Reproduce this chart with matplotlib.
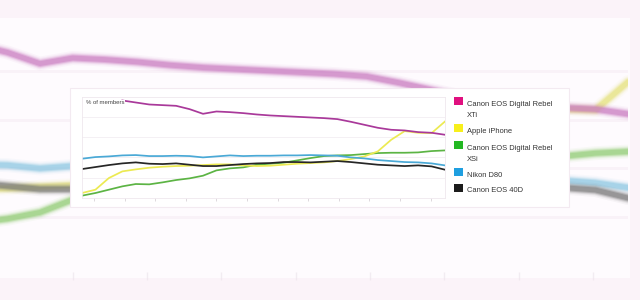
import numpy as np
import matplotlib
matplotlib.use("Agg")
import matplotlib.pyplot as plt
from matplotlib.patches import Rectangle

plt.rcParams['font.family'] = ['Liberation Sans', 'DejaVu Sans']

# ---- data (share of members, arbitrary % scale), 28 periods ----
periods = list(range(28))
series_names = ["Canon EOS Digital Rebel\nXTi", "Apple iPhone",
                "Canon EOS Digital Rebel\nXSi", "Nikon D80", "Canon EOS 40D"]
rebel_xti = [np.nan, np.nan, np.nan, 29.8, 29.2, 28.6, 28.4, 28.2, 27.2, 25.8,
             26.5, 26.3, 26.0, 25.6, 25.3, 25.1, 24.9, 24.7, 24.5, 24.2,
             23.4, 22.5, 21.6, 21.0, 20.8, 20.3, 20.1, 19.5]
iphone = [2.0, 3.0, 6.5, 8.5, 9.1, 9.6, 9.9, 10.1, 10.2, 10.4,
          10.6, 10.6, 10.3, 10.1, 10.2, 10.5, 10.8, 11.0, 11.2, 11.6,
          12.2, 13.0, 14.5, 18.0, 20.6, 20.1, 20.0, 23.5]
rebel_xsi = [1.2, 2.0, 3.0, 4.0, 4.7, 4.6, 5.2, 5.9, 6.4, 7.2,
             8.8, 9.4, 9.7, 10.5, 10.8, 11.1, 11.8, 12.5, 13.1, 13.3,
             13.4, 13.7, 14.0, 14.1, 14.1, 14.2, 14.6, 14.8]
nikon_d80 = [12.3, 12.8, 13.0, 13.3, 13.4, 13.1, 13.1, 13.2, 13.1, 12.7,
             13.0, 13.3, 13.1, 13.2, 13.2, 13.3, 13.3, 13.4, 13.3, 13.2,
             12.7, 12.4, 11.9, 11.6, 11.3, 11.2, 10.9, 10.3]
eos_40d = [9.2, 9.8, 10.4, 10.9, 11.2, 10.8, 10.7, 10.9, 10.5, 10.1,
           10.1, 10.4, 10.7, 10.9, 11.0, 11.3, 11.3, 11.2, 11.4, 11.6,
           11.3, 10.9, 10.5, 10.3, 10.1, 10.3, 10.0, 9.0]
all_series = [rebel_xti, iphone, rebel_xsi, nikon_d80, eos_40d]

line_colors = ["#a9399a", "#ecea52", "#5cb444", "#4aa9d6", "#262626"]
key_colors = ["#e0107f", "#f7ef1c", "#23b823", "#1f9fe0", "#1c1c1c"]
bg_colors = ["#c97ac0", "#e6e27a", "#8fcc72", "#8cc7e2", "#777777"]
draw_order = [2, 1, 3, 4, 0]

XLIM = (0, 27)
YLIM = (0.5, 31.0)

fig = plt.figure(figsize=(6.4, 3.0), dpi=100)
fig.patch.set_facecolor("#fbf3f9")

W, H = 640.0, 300.0
def fx(px): return px / W
def fy(py): return 1 - py / H

# background (blurred, magnified) panel
fig.patches.append(Rectangle((fx(-5), fy(278)), fx(635), 260 / H,
                             transform=fig.transFigure, facecolor="#fefbfe",
                             edgecolor="none", zorder=-1))

bg = fig.add_axes([-254 / W, fy(266), 882 / W, 244 / H], zorder=0)
bg.set_facecolor("none")
for s in bg.spines.values():
    s.set_visible(False)
bg.set_xlim(*XLIM)
bg.set_ylim(*YLIM)
bg.set_xticks([])
bg.set_yticks([])
for gy in np.linspace(YLIM[0], YLIM[1], 6)[1:-1]:
    bg.axhline(gy, color="#f9f2f8", lw=2.0, zorder=0)
for i in draw_order:
    for lw, a in [(10, 0.06), (8, 0.10), (6.5, 0.18), (5, 0.35), (3.5, 0.45)]:
        bg.plot(periods, all_series[i], color=bg_colors[i], lw=lw, alpha=a,
                solid_capstyle="round", solid_joinstyle="round")
bg_ticks = np.arange(0.9, 27, 2.275)
bg.plot(bg_ticks, [YLIM[0] - 1.2] * len(bg_ticks), ls="none", marker="|",
        ms=6, color="#ebe3ea", clip_on=False, alpha=0.6)

# inset white panel
fig.patches.append(Rectangle((fx(70), fy(207)), 499 / W, 119 / H,
                             transform=fig.transFigure, facecolor="#ffffff",
                             edgecolor="#f3eaf1", lw=0.8, zorder=1))

ax = fig.add_axes([fx(82), fy(198), 363 / W, 101.5 / H], zorder=2)
ax.set_facecolor("white")
ax.set_xlim(*XLIM)
ax.set_ylim(*YLIM)
for k, s in ax.spines.items():
    s.set_color("#efe8ee")
    s.set_linewidth(0.6)
for gy in np.linspace(YLIM[0], YLIM[1], 6)[1:-1]:
    ax.axhline(gy, color="#f3eef2", lw=0.6, zorder=0)
for i in draw_order:
    ax.plot(periods, all_series[i], color=line_colors[i], lw=1.25,
            solid_joinstyle="round")
ax.set_yticks([])
ax.set_xticks(np.arange(0.9, 27, 2.275))
ax.set_xticklabels([])
ax.tick_params(axis="x", length=2.5, width=0.6, color="#d8d2d7", direction="out")
ax.text(0.012, 0.965, "% of members", transform=ax.transAxes, fontsize=4.3,
        color="#444444", va="top", ha="left",
        bbox=dict(facecolor="white", edgecolor="none", pad=0.3))

# legend (keys aligned with first line of each label)
key_tops = [97, 124, 141, 168, 183.5]
for name, col, top in zip(series_names, key_colors, key_tops):
    fig.patches.append(Rectangle((fx(453.5), fy(top + 8)), 9 / W, 8 / H,
                                 transform=fig.transFigure, facecolor=col,
                                 edgecolor="none", zorder=3))
    fig.text(fx(467), fy(top + 4), name, fontsize=5.4, color="#333333",
             va="top", ha="left", linespacing=1.75, zorder=3,
             transform=fig.transFigure)

fig.savefig("out.png", dpi=100, facecolor=fig.get_facecolor())
